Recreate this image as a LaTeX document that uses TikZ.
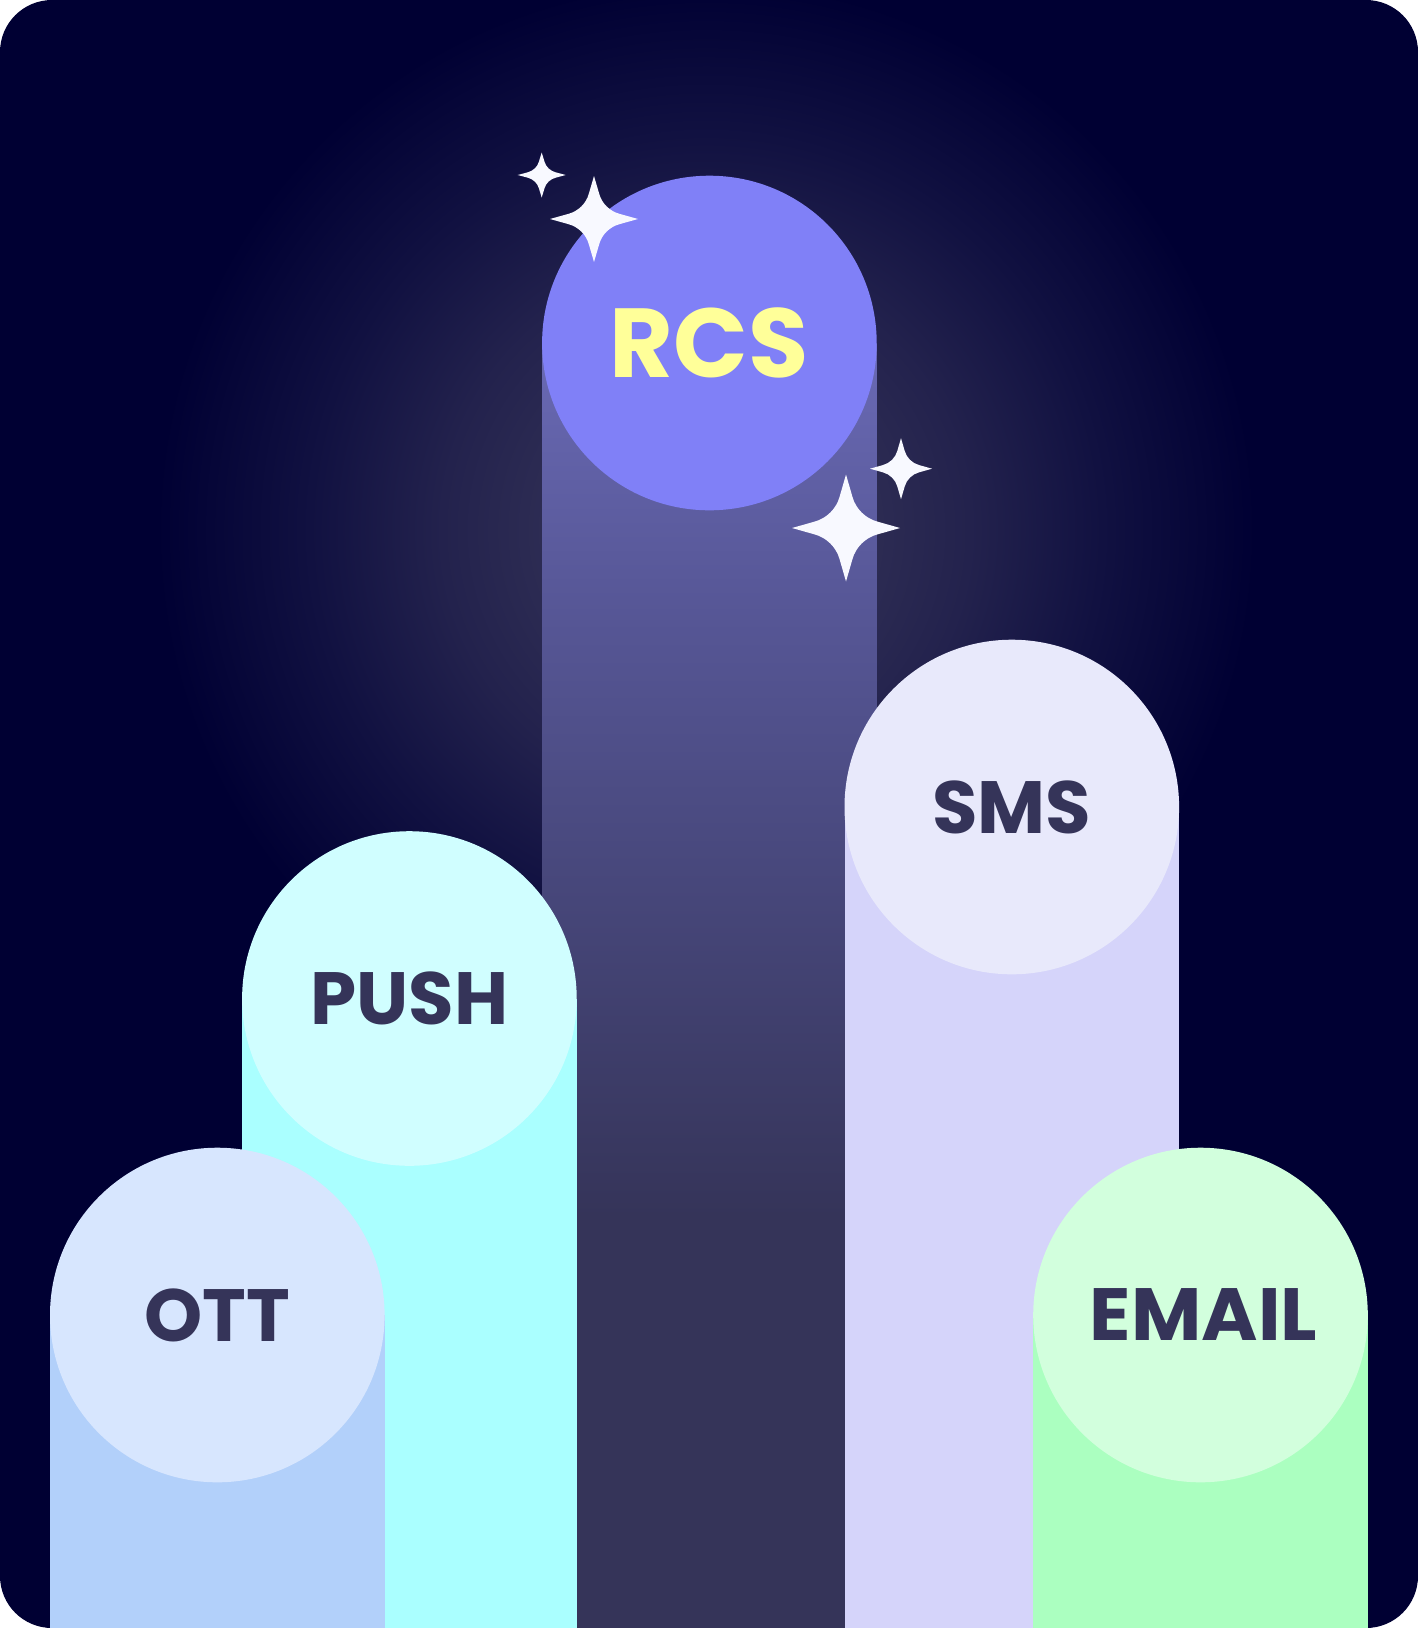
\documentclass[tikz,border=0pt]{standalone}
\usepackage{fontspec}
\newfontfamily\lblfont{Poppins}
\usetikzlibrary{shapes.geometric}
\definecolor{bgnavy}{HTML}{000033}
\definecolor{labeldark}{HTML}{353459}
\definecolor{rcsyellow}{HTML}{FFFF99}
\definecolor{sparkwhite}{HTML}{F8F9FF}
\definecolor{cRcs}{HTML}{8080F7}
\definecolor{cSmsC}{HTML}{E8E9FB}\definecolor{cSmsB}{HTML}{D5D4FA}
\definecolor{cPushC}{HTML}{D0FEFF}\definecolor{cPushB}{HTML}{AAFFFF}
\definecolor{cOttC}{HTML}{D7E6FE}\definecolor{cOttB}{HTML}{B2D0FA}
\definecolor{cMailC}{HTML}{D2FFDD}\definecolor{cMailB}{HTML}{ABFFC0}
\definecolor{glowA}{HTML}{353459}
\definecolor{glowB}{HTML}{302F55}
\definecolor{glowC}{HTML}{23224D}
\definecolor{glowD}{HTML}{111141}
\definecolor{barA}{HTML}{4A4A80}
\definecolor{barB}{HTML}{575797}
\definecolor{barC}{HTML}{6363AA}
\definecolor{barD}{HTML}{6A6AB6}
\pgfdeclareradialshading{bgglow}{\pgfpoint{0bp}{0bp}}{
  color(0bp)=(glowA);
  color(6bp)=(glowB);
  color(12bp)=(glowC);
  color(18bp)=(glowD);
  color(25bp)=(bgnavy);
  color(50bp)=(bgnavy)}
\pgfdeclareverticalshading{rcsbar}{100bp}{
  color(0bp)=(labeldark);
  color(25bp)=(labeldark);
  color(41bp)=(labeldark);
  color(56bp)=(barA);
  color(65bp)=(barB);
  color(71.6bp)=(barC);
  color(75bp)=(barD);
  color(100bp)=(barD)}
\tikzset{
  x=1pt,y=-1pt,
  bubble/.style={circle,minimum size=334.6pt,inner sep=0pt,outer sep=0pt,text=labeldark,font=\lblfont\bfseries\fontsize{74}{74}\selectfont}
}
\newcommand{\sparkle}[4]{%
  \begin{scope}[shift={(#1,#2)},xscale=#3,yscale=#4]
  \fill[sparkwhite] (0,-1) -- (0.12,-0.58)
   .. controls (0.18,-0.36) and (0.36,-0.18) .. (0.58,-0.12)
   -- (1,0) -- (0.58,0.12)
   .. controls (0.36,0.18) and (0.18,0.36) .. (0.12,0.58)
   -- (0,1) -- (-0.12,0.58)
   .. controls (-0.18,0.36) and (-0.36,0.18) .. (-0.58,0.12)
   -- (-1,0) -- (-0.58,-0.12)
   .. controls (-0.36,-0.18) and (-0.18,-0.36) .. (-0.12,-0.58)
   -- cycle;
  \end{scope}}
\begin{document}
\begin{tikzpicture}
\useasboundingbox (0,0) rectangle (1418,1628);
\begin{scope}
\clip[rounded corners=52pt] (0,0) rectangle (1418,1628);
\fill[bgnavy] (0,0) rectangle (1418,1628);
\shade[shading=bgglow] (706,530) circle[radius=550];
\shade[shading=rcsbar] (542,343) rectangle (876.7,1628);
\fill[cSmsB] (844.5,807) rectangle (1179,1628);
\fill[cPushB] (242,998.5) rectangle (576.7,1628);
\fill[cOttB] (50,1315) rectangle (384.6,1628);
\fill[cMailB] (1033.3,1315) rectangle (1367.8,1628);
\end{scope}
\node[bubble,fill=cRcs,text=rcsyellow,font=\lblfont\bfseries\fontsize{98}{98}\selectfont] (rcs) at (709.4,343) {RCS};
\node[bubble,fill=cSmsC] (sms) at (1011.8,807) {SMS};
\node[bubble,fill=cPushC] (push) at (409.4,998.5) {PUSH};
\node[bubble,fill=cOttC] (ott) at (217.3,1315) {OTT};
\node[bubble,fill=cMailC] (email) at (1200.5,1315) {\hspace*{6pt}\scalebox{1.035}[1]{EMAIL}};
\sparkle{541.7}{175}{24}{22.5}
\sparkle{594}{219}{44}{43}
\sparkle{901}{468.7}{31}{30.5}
\sparkle{846}{528}{54}{53.5}
\end{tikzpicture}
\end{document}
